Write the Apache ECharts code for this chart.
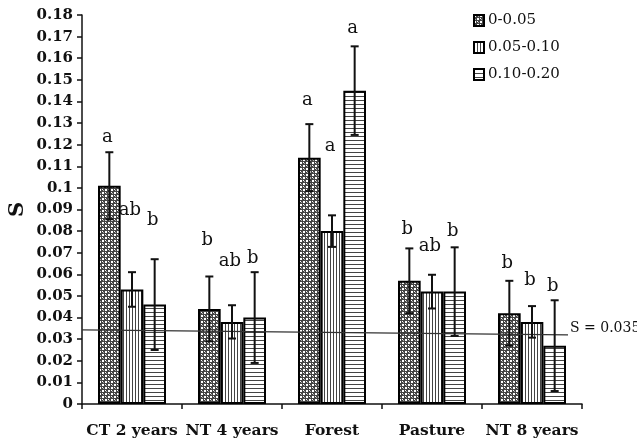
<!DOCTYPE html>
<html><head><meta charset="utf-8">
<script src="https://cdn.jsdelivr.net/npm/echarts@6/dist/echarts.min.js"></script>
<style>html,body{margin:0;padding:0;background:#fff}#c{width:637px;height:443px}</style>
</head><body><div id="c"></div>
<script>
var categories = ['CT 2 years', 'NT 4 years', 'Forest', 'Pasture', 'NT 8 years'];
var seriesNames = ['0-0.05', '0.05-0.10', '0.10-0.20'];
var s1 = [0.101, 0.044, 0.114, 0.057, 0.042];
var s2 = [0.053, 0.038, 0.080, 0.052, 0.038];
var s3 = [0.046, 0.040, 0.145, 0.052, 0.027];
var err1 = [0.0155, 0.015, 0.0155, 0.015, 0.015];
var err2 = [0.008, 0.0077, 0.0073, 0.0078, 0.0073];
var err3 = [0.021, 0.021, 0.0205, 0.0205, 0.021];
var letters1 = ['a', 'b', 'a', 'b', 'b'];
var letters2 = ['ab', 'ab', 'a', 'ab', 'b'];
var letters3 = ['b', 'b', 'a', 'b', 'b'];
var letterY1 = [0.1236, 0.0759, 0.1407, 0.0806, 0.0651];
var letterY2 = [0.0898, 0.0659, 0.1191, 0.0728, 0.0574];
var letterY3 = [0.0852, 0.0676, 0.1739, 0.0798, 0.0543];
var refLineX = [0, 0.972];
var refLineY = [0.0343, 0.0320];
var refLabel = 'S = 0.035';

var FONT = 'DejaVu Serif';

function makePattern(type) {
  var c = document.createElement('canvas');
  var ctx;
  if (type === 'dots') {
    c.width = 6; c.height = 6; ctx = c.getContext('2d');
    ctx.fillStyle = '#444'; ctx.fillRect(0, 0, 6, 6);
    ctx.fillStyle = '#fff';
    ctx.fillRect(0, 0, 2, 2); ctx.fillRect(3, 3, 2, 2);
    ctx.fillRect(3, 0, 1, 1); ctx.fillRect(0, 3, 1, 1);
    ctx.fillStyle = '#aaa';
    ctx.fillRect(4, 1, 1, 1); ctx.fillRect(1, 4, 1, 1);
  } else if (type === 'vlines') {
    c.width = 3; c.height = 1; ctx = c.getContext('2d');
    ctx.fillStyle = '#fff'; ctx.fillRect(0, 0, 3, 1);
    ctx.fillStyle = '#444'; ctx.fillRect(0, 0, 1, 1);
  } else {
    c.width = 1; c.height = 4; ctx = c.getContext('2d');
    ctx.fillStyle = '#fff'; ctx.fillRect(0, 0, 1, 4);
    ctx.fillStyle = '#444'; ctx.fillRect(0, 0, 1, 1);
  }
  return { image: c, repeat: 'repeat' };
}
var patterns = [makePattern('dots'), makePattern('vlines'), makePattern('hlines')];
var values = [s1, s2, s3];
var errs = [err1, err2, err3];
var letters = [letters1, letters2, letters3];
var letterYs = [letterY1, letterY2, letterY3];

var BAR_FRAC = 0.68;

var series = [];
for (var i = 0; i < 3; i++) {
  series.push({
    name: seriesNames[i], type: 'bar', data: values[i],
    barGap: '0%', barCategoryGap: '32%',
    itemStyle: { color: patterns[i], borderColor: '#000', borderWidth: 2 },
    z: 2
  });
}
for (var j = 0; j < 3; j++) {
  (function (k) {
    series.push({
      type: 'custom', z: 5, silent: true,
      data: values[k].map(function (v, idx) { return [idx, v, errs[k][idx]]; }),
      renderItem: function (params, api) {
        var catW = api.size([1, 0])[0];
        var bw = catW * BAR_FRAC / 3;
        var c = api.coord([api.value(0), api.value(1)]);
        var x = c[0] + (k - 1) * bw;
        var top = api.coord([api.value(0), api.value(1) + api.value(2)])[1];
        var bot = api.coord([api.value(0), api.value(1) - api.value(2)])[1];
        var cap = 4;
        var st = { stroke: '#111', lineWidth: 2 };
        return { type: 'group', children: [
          { type: 'line', shape: { x1: x, y1: top, x2: x, y2: bot }, style: st },
          { type: 'line', shape: { x1: x - cap, y1: top, x2: x + cap, y2: top }, style: st },
          { type: 'line', shape: { x1: x - cap, y1: bot, x2: x + cap, y2: bot }, style: st }
        ]};
      }
    });
    series.push({
      type: 'custom', z: 6, silent: true,
      data: letterYs[k].map(function (v, idx) { return [idx, v]; }),
      renderItem: function (params, api) {
        var catW = api.size([1, 0])[0];
        var bw = catW * BAR_FRAC / 3;
        var c = api.coord([api.value(0), api.value(1)]);
        var x = c[0] + (k - 1) * bw - 2;
        return { type: 'text', x: x, y: c[1], style: {
          text: letters[k][params.dataIndex], fill: '#111',
          font: 'normal 18px "' + FONT + '"', align: 'center', verticalAlign: 'middle' } };
      }
    });
  })(j);
}
series.push({
  type: 'line', xAxisIndex: 1, yAxisIndex: 0, symbol: 'none', z: 4, silent: true,
  lineStyle: { color: '#333', width: 1.2 },
  data: [[refLineX[0], refLineY[0]], [refLineX[1], refLineY[1]]]
});
series.push({
  type: 'custom', xAxisIndex: 1, yAxisIndex: 0, z: 6, silent: true, clip: false,
  data: [[refLineX[1], refLineY[1]]],
  renderItem: function (params, api) {
    var c = api.coord([api.value(0), api.value(1)]);
    return { type: 'text', x: c[0] + 2, y: c[1] - 6, style: {
      text: refLabel, fill: '#111', font: 'normal 14px "' + FONT + '"',
      align: 'left', verticalAlign: 'middle' } };
  }
});

var chart = echarts.init(document.getElementById('c'), null, { renderer: 'canvas' });
chart.setOption({
  animation: false,
  backgroundColor: '#fff',
  grid: { left: 82, right: 55, top: 15, bottom: 39, containLabel: false, outerBoundsMode: 'none' },
  legend: {
    data: seriesNames, orient: 'vertical', left: 468, top: 8,
    itemWidth: 10, itemHeight: 11, itemGap: 12,
    textStyle: { fontFamily: FONT, fontSize: 15, color: '#111', padding: [0, 0, 0, -1] },
    icon: 'rect', selectedMode: false
  },
  xAxis: [{
    type: 'category', data: categories,
    axisLine: { lineStyle: { color: '#111', width: 1.5 } },
    axisTick: { show: true, length: 5, lineStyle: { color: '#111', width: 1.5 } },
    axisLabel: { interval: 0, fontFamily: FONT, fontWeight: 'bold', fontSize: 15.5, color: '#111', margin: 19 },
    splitLine: { show: false }
  }, {
    type: 'value', min: 0, max: 1, show: false
  }],
  yAxis: {
    type: 'value', min: 0, max: 0.18, interval: 0.01,
    name: 'S', nameLocation: 'middle', nameRotate: 90, nameGap: 54, nameMoveOverlap: false,
    nameTextStyle: { fontFamily: FONT, fontWeight: 'bold', fontSize: 21, color: '#111' },
    axisLine: { show: true, lineStyle: { color: '#111', width: 1.5 } },
    axisTick: { show: true, length: 5, lineStyle: { color: '#111', width: 1.5 } },
    axisLabel: { fontFamily: FONT, fontWeight: 'bold', fontSize: 15, color: '#111', margin: 9,
      formatter: function (v) { return String(Number(v.toFixed(2))); } },
    splitLine: { show: false }
  },
  series: series
});
</script></body></html>
